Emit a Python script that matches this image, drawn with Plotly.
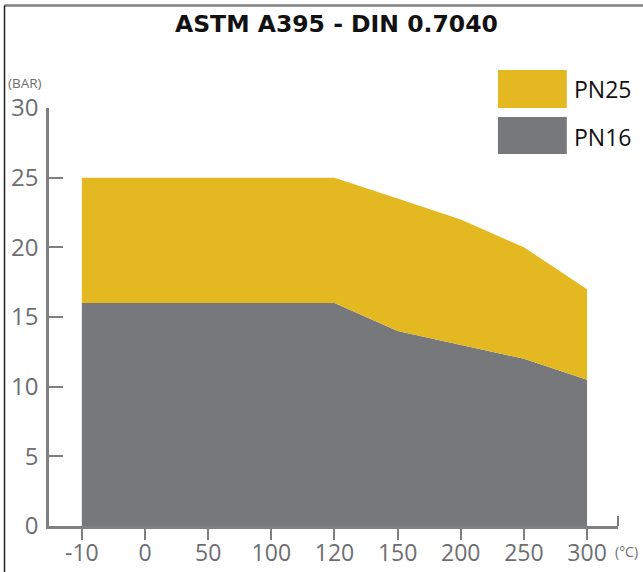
import plotly.graph_objects as go

# ---- data ----
temps = ["-10", "0", "50", "100", "120", "150", "200", "250", "300"]
pn16 = [16, 16, 16, 16, 16, 14, 13, 12, 10.5]
pn25 = [25, 25, 25, 25, 25, 23.5, 22, 20, 17]
series_names = ["PN25", "PN16"]
title_text = "ASTM A395 - DIN 0.7040"
y_unit = "(BAR)"
x_unit = "(°C)"

YELLOW = "#E4B820"
GRAY = "#77787B"
AXIS = "#7f7f7f"
TICKFONT = "#6d6e71"

fig = go.Figure()
fig.add_trace(go.Scatter(x=temps, y=pn16, name=series_names[1], mode="lines",
                         line=dict(width=0, color=GRAY), fill="tozeroy",
                         fillcolor=GRAY, showlegend=False, hoverinfo="skip"))
fig.add_trace(go.Scatter(x=temps, y=pn25, name=series_names[0], mode="lines",
                         line=dict(width=0, color=YELLOW), fill="tonexty",
                         fillcolor=YELLOW, showlegend=False, hoverinfo="skip"))

fig.update_layout(
    width=643, height=572,
    margin=dict(l=49, r=25, t=108, b=46, autoexpand=False),
    paper_bgcolor="white", plot_bgcolor="white",
    font=dict(family="Open Sans", color=TICKFONT),
    showlegend=False,
)
fig.update_xaxes(
    type="category", range=[-0.52, 8.49], automargin=False,
    showline=True, linecolor=AXIS, linewidth=2.5,
    ticks="outside", ticklen=11, tickwidth=2, tickcolor=AXIS,
    tickfont=dict(size=23, color=TICKFONT, family="Open Sans"),
    ticklabelstandoff=-6,
    showgrid=False, zeroline=False,
)
fig.update_yaxes(
    range=[0, 30], tickvals=[0, 5, 10, 15, 20, 25, 30], automargin=False,
    showline=True, linecolor=AXIS, linewidth=2.5,
    ticks="inside", ticklen=14, tickwidth=2, tickcolor=AXIS,
    tickfont=dict(size=24, color=TICKFONT, family="Open Sans"),
    ticklabelstandoff=3,
    showgrid=False, zeroline=False,
)

shapes = []
annotations = []
# custom legend
legend_items = [(series_names[0], YELLOW, 1.0909, 1.0, 1.0455),
                (series_names[1], GRAY, 0.9785, 0.8900, 0.9306)]
for name, col, ytop, ybot, ytext in legend_items:
    shapes.append(dict(type="rect", xref="paper", yref="paper",
                       x0=0.789, x1=0.910, y0=ybot, y1=ytop,
                       fillcolor=col, line=dict(width=0)))
    annotations.append(dict(text=name, xref="paper", yref="paper",
                            x=0.919, y=ytext, xanchor="left", yanchor="middle",
                            showarrow=False,
                            font=dict(size=23, color="#111111", family="Open Sans")))

# frame lines
shapes.append(dict(type="line", xref="paper", yref="paper",
                   x0=-0.0782, x1=1.05, y0=1.2452, y1=1.2452,
                   line=dict(color="#808080", width=2.5)))
shapes.append(dict(type="line", xref="paper", yref="paper",
                   x0=-0.0782, x1=-0.0782, y0=1.2452, y1=-0.11,
                   line=dict(color="#222222", width=1.5)))
# axis end tick
shapes.append(dict(type="line", xref="paper", yref="paper",
                   x0=1.0, x1=1.0, y0=0, y1=0.0239,
                   line=dict(color=AXIS, width=2)))

annotations.append(dict(text=f"<b>{title_text}</b>", xref="paper", yref="paper",
                        x=0.5044, y=1.2, xanchor="center", yanchor="middle",
                        showarrow=False,
                        font=dict(size=23.5, color="#111111", family="DejaVu Sans")))
annotations.append(dict(text=y_unit, xref="paper", yref="paper",
                        x=-0.0756, y=1.0598, xanchor="left", yanchor="middle",
                        showarrow=False,
                        font=dict(size=13.5, color=TICKFONT, family="Open Sans")))
annotations.append(dict(text=x_unit, xref="paper", yref="paper",
                        x=0.991, y=-0.0622, xanchor="left", yanchor="middle",
                        showarrow=False,
                        font=dict(size=14, color=TICKFONT, family="Open Sans")))

fig.update_layout(shapes=shapes, annotations=annotations)
fig.write_html("out.html", config={"displayModeBar": False},
               post_script="document.body.style.margin='0px';")
